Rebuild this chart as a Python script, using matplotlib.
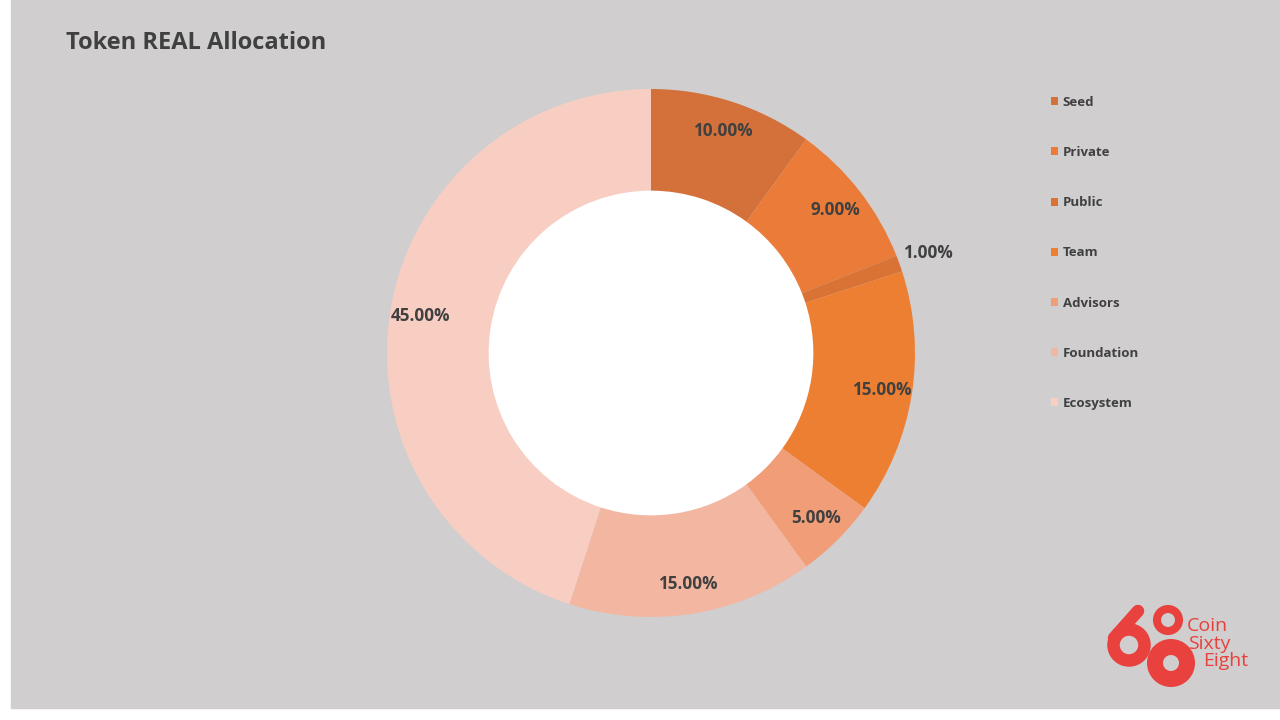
import matplotlib
matplotlib.use('Agg')
from matplotlib import pyplot as plt
from matplotlib.patches import Rectangle, Circle

# Data
categories = ['Seed', 'Private', 'Public', 'Team', 'Advisors', 'Foundation', 'Ecosystem']
shares = [10, 9, 1, 15, 5, 15, 45]
colors = ['#d4703a', '#ea7b38', '#d87235', '#ed7f33', '#f09d78', '#f3b7a1', '#f8cec3']

bg = '#d0cece'
txt = '#404040'
red = '#e8413e'

plt.rcParams['font.family'] = ['Open Sans', 'DejaVu Sans']

fig = plt.figure(figsize=(12.8, 7.2), dpi=100, facecolor='white')

# gray panel (white strip on the left and bottom)
back = fig.add_axes([0, 0, 1, 1])
back.set_xlim(0, 1280)
back.set_ylim(720, 0)
back.axis('off')
back.add_patch(Rectangle((11, 0), 1269, 708, color=bg, zorder=0))

# title
back.text(66, 43, 'Token REAL Allocation', fontsize=17, fontweight='bold',
          color=txt, ha='left', va='center')

# donut
ax = fig.add_axes([387 / 1280, 103 / 720, 528 / 1280, 528 / 720])
ax.set_facecolor('none')
wedges, _, pcts = ax.pie(shares, colors=colors, startangle=90, counterclock=False,
                         autopct='%.2f%%', pctdistance=0.885,
                         wedgeprops=dict(width=0.385, edgecolor='none'),
                         textprops=dict(fontsize=12.3, fontweight='bold', color=txt))
ax.add_patch(Circle((0, 0), 0.615, color='white', zorder=0))
ax.set_xlim(-1, 1)
ax.set_ylim(-1, 1)

# the 1% label sits outside the ring
small = pcts[2]
x, y = small.get_position()
small.set_position((x * 1.26, y * 1.26))

# legend
leg = fig.legend(wedges, categories, loc='upper left', bbox_to_anchor=(1039 / 1280, 1 - 84 / 720),
                 frameon=False, fontsize=9.5, labelspacing=2.82, handlelength=0.55,
                 handleheight=0.55, handletextpad=0.35)
for t in leg.get_texts():
    t.set_color(txt)
    t.set_fontweight('bold')

# logo: "6" built from a ring and a stem, then two rings
back.add_patch(Circle((1129, 645), 15.5, fill=False, lw=9, ec=red))
back.plot([1114, 1138], [638, 611], color=red, lw=9, solid_capstyle='round')
back.add_patch(Circle((1168, 620), 11, fill=False, lw=5.8, ec=red))
back.add_patch(Circle((1171, 663), 16, fill=False, lw=11.5, ec=red))
for word, wx, wy in [('Coin', 1187, 626), ('Sixty', 1188, 644), ('Eight', 1203, 661)]:
    back.text(wx, wy, word, fontsize=14, color=red, ha='left', va='center')

fig.savefig('out.png', dpi=100, facecolor=fig.get_facecolor())
